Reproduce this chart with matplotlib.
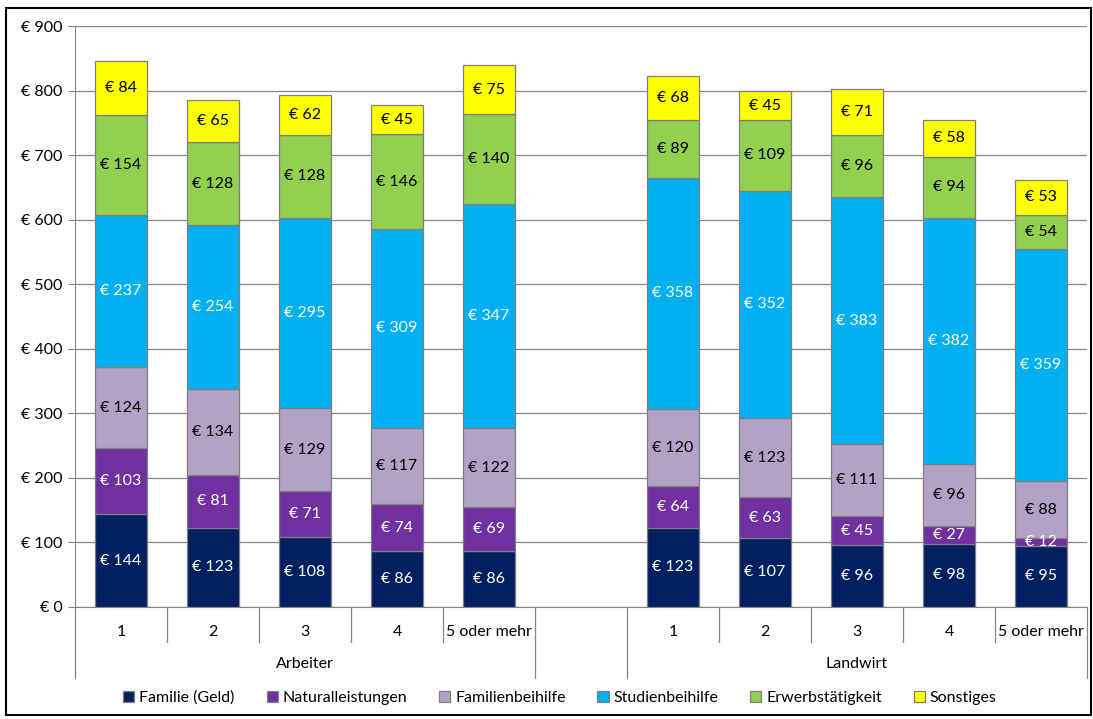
import matplotlib
matplotlib.use("Agg")
import matplotlib.pyplot as plt
from matplotlib.patches import Rectangle
import numpy as np

plt.rcParams["font.family"] = ["Lato", "DejaVu Sans"]

groups = ["Arbeiter", "Landwirt"]
sizes = ["1", "2", "3", "4", "5 oder mehr"]

series_names = ["Familie (Geld)", "Naturalleistungen", "Familienbeihilfe",
                "Studienbeihilfe", "Erwerbstätigkeit", "Sonstiges"]
familie = [144, 123, 108, 86, 86, 123, 107, 96, 98, 95]
natural = [103, 81, 71, 74, 69, 64, 63, 45, 27, 12]
familienbeihilfe = [124, 134, 129, 117, 122, 120, 123, 111, 96, 88]
studien = [237, 254, 295, 309, 347, 358, 352, 383, 382, 359]
erwerb = [154, 128, 128, 146, 140, 89, 109, 96, 94, 54]
sonstiges = [84, 65, 62, 45, 75, 68, 45, 71, 58, 53]

COLORS = ["#002060", "#7030A0", "#B3A2C7", "#00B0F0", "#92D050", "#FFFF00"]
LABEL_COLORS = ["white", "white", "black", "white", "black", "black"]
EDGE = "#7F7F7F"

series = [familie, natural, familienbeihilfe, studien, erwerb, sonstiges]

# slot positions: 5 Arbeiter, one empty gap, 5 Landwirt
x = np.array([0, 1, 2, 3, 4, 6, 7, 8, 9, 10])

fig = plt.figure(figsize=(10.93, 7.19), dpi=100)
ax = fig.add_axes([75 / 1093, 1 - 607 / 719, (1087 - 75) / 1093, (607 - 26) / 719])

bottom = np.zeros(len(x))
handles = []
for vals, name, col, lcol in zip(series, series_names, COLORS, LABEL_COLORS):
    vals = np.array(vals)
    bars = ax.bar(x, vals, bottom=bottom, width=0.57, color=col, edgecolor=EDGE,
                  linewidth=0.9, label=name, zorder=3)
    handles.append(bars)
    for xi, b, v in zip(x, bottom, vals):
        ax.text(xi, b + v / 2, f"€ {v}", ha="center", va="center",
                color=lcol, fontsize=11.5, zorder=4)
    bottom += vals

ax.set_xlim(-0.5, 10.5)
ax.set_ylim(0, 900)
ax.set_yticks(np.arange(0, 901, 100))
ax.set_yticklabels([f"€ {v}" for v in range(0, 901, 100)])
ax.grid(True, axis="y", color="#868686", linewidth=0.9, zorder=0)
ax.set_axisbelow(True)
ax.tick_params(axis="y", labelsize=11.5, length=5, color="#868686", pad=4)
ax.tick_params(axis="x", length=0, labelbottom=False)
for s in ("top", "right"):
    ax.spines[s].set_visible(False)
ax.spines["left"].set_color("#868686")
ax.spines["bottom"].set_color("#868686")

# multi-level category axis
trans = ax.get_xaxis_transform()
px = 1 / (607 - 26)  # one pixel in axes-y units
for xi in x:
    ax.text(xi, -25 * px, sizes[list(x).index(xi) % 5], transform=trans,
            ha="center", va="center", fontsize=11.5)
inner = [0.5, 1.5, 2.5, 3.5, 6.5, 7.5, 8.5, 9.5]
outer = [-0.5, 4.5, 5.5, 10.5]
for b in inner:
    ax.plot([b, b], [0, -35 * px], transform=trans, color="#868686",
            linewidth=0.9, clip_on=False)
for b in outer:
    ax.plot([b, b], [0, -71 * px], transform=trans, color="#868686",
            linewidth=0.9, clip_on=False)
ax.text(2, -57 * px, groups[0], transform=trans, ha="center", va="center", fontsize=11.5)
ax.text(8, -57 * px, groups[1], transform=trans, ha="center", va="center", fontsize=11.5)

leg = fig.legend(handles=handles, labels=series_names, loc="center",
                 bbox_to_anchor=(560 / 1093, 1 - 698 / 719), ncol=6, frameon=False,
                 fontsize=11.5, handlelength=0.7, handleheight=0.7,
                 handletextpad=0.3, columnspacing=2.0)

fig.patches.append(Rectangle((6 / 1093, 4 / 719), 1085 / 1093, 707 / 719,
                             transform=fig.transFigure, fill=False,
                             edgecolor="black", linewidth=1.5))

fig.savefig("out.png", dpi=100, facecolor="white")
